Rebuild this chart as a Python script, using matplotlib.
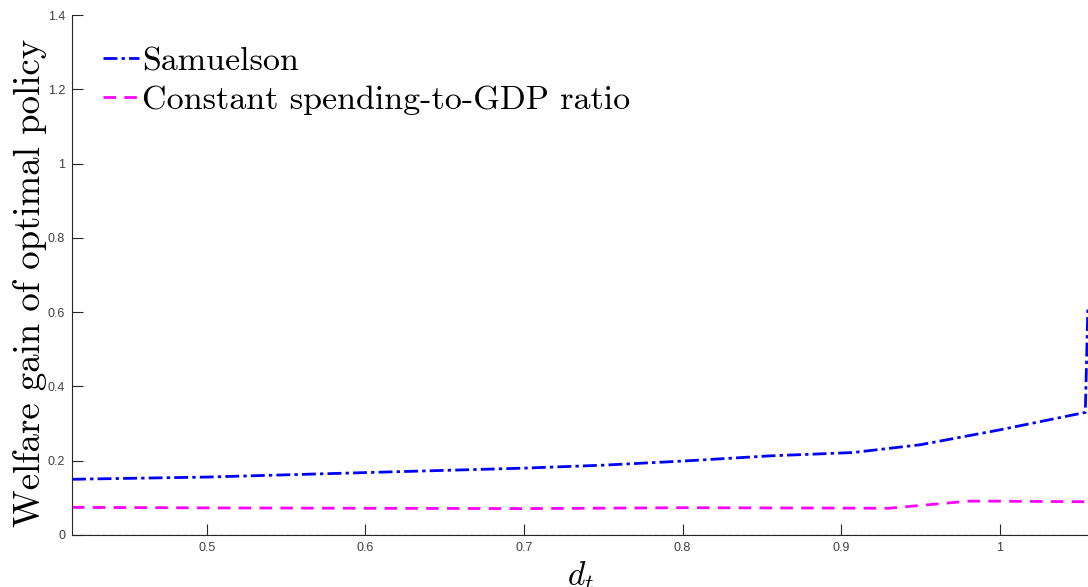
import matplotlib
matplotlib.use('Agg')
import matplotlib.pyplot as plt

# welfare gain curves
x_sam = [0.415, 0.5, 0.6, 0.7, 0.75, 0.8, 0.855, 0.9075, 0.95, 1.0, 1.054, 1.0556]
y_sam = [0.150, 0.156, 0.168, 0.180, 0.188, 0.199, 0.213, 0.222, 0.243, 0.283, 0.330, 0.61]

x_const = [0.415, 0.5, 0.6, 0.7, 0.8, 0.85, 0.93, 0.98, 1.0, 1.0556]
y_const = [0.0745, 0.073, 0.072, 0.071, 0.0735, 0.073, 0.072, 0.091, 0.091, 0.0895]

xticks = [0.5, 0.6, 0.7, 0.8, 0.9, 1.0]
xtick_labels = ['0.5', '0.6', '0.7', '0.8', '0.9', '1']
yticks = [0, 0.2, 0.4, 0.6, 0.8, 1.0, 1.2, 1.4]
ytick_labels = ['0', '0.2', '0.4', '0.6', '0.8', '1', '1.2', '1.4']

plt.rcParams['mathtext.fontset'] = 'cm'

fig = plt.figure(figsize=(10.88, 5.87), dpi=100)
ax = fig.add_axes([0.0662, 0.0886, 0.9338, 0.8858])

ax.plot(x_sam, y_sam, color='#0000ff', lw=2.0, dashes=[5, 1.5, 1.2, 1.5], label='Samuelson')
ax.plot(x_const, y_const, color='#ff00ff', lw=2.0, dashes=[4.5, 3], label='Constant spending-to-GDP ratio')
ax.axhline(0, color='#999999', lw=1.0, ls='--', zorder=3)

ax.set_xlim(0.415, 1.0557)
ax.set_ylim(0, 1.4)
ax.set_xticks(xticks)
ax.set_xticklabels(xtick_labels)
ax.set_yticks(yticks)
ax.set_yticklabels(ytick_labels)
ax.tick_params(direction='in', length=8, width=0.8, colors='#262626', labelsize=9, pad=5)
for lab in ax.get_xticklabels() + ax.get_yticklabels():
    lab.set_family('Liberation Sans')
    lab.set_color('#404040')

for s in ['top', 'right']:
    ax.spines[s].set_visible(False)
for s in ['left', 'bottom']:
    ax.spines[s].set_color('#262626')
    ax.spines[s].set_linewidth(0.8)

ax.set_ylabel('Welfare gain of optimal policy', fontfamily='cmr10', fontsize=26.5)
ax.yaxis.set_label_coords(-0.025, 0.485)
ax.set_xlabel('$d_t$', fontsize=24, labelpad=4)

leg = ax.legend(loc='upper left', frameon=False, prop={'family': 'cmr10', 'size': 24.5},
                handlelength=1.05, handletextpad=0.1, labelspacing=0.28, borderpad=0,
                borderaxespad=0, bbox_to_anchor=(0.0305, 0.94))

fig.savefig('out.png', dpi=100)
